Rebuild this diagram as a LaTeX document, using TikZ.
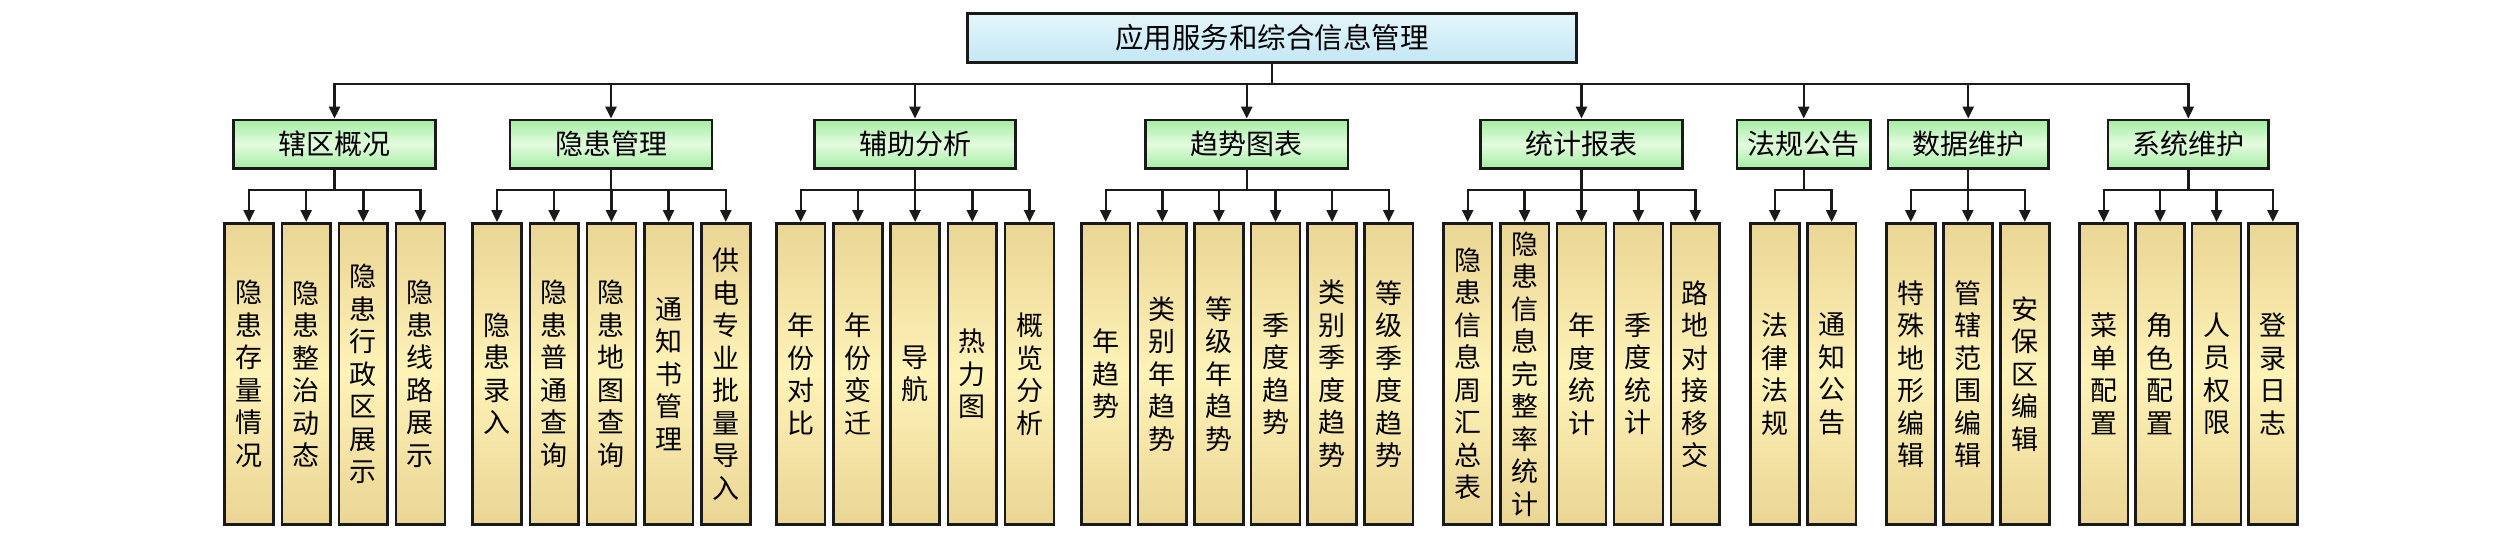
\documentclass[tikz,border=0pt]{standalone}
\usepackage{fontspec}
\setmainfont{Noto Sans CJK SC}
\usetikzlibrary{arrows.meta}
\definecolor{rootA}{HTML}{E4F6FB}
\definecolor{rootB}{HTML}{C4E7F4}
\definecolor{catA}{HTML}{A4EEA4}
\definecolor{catM}{HTML}{E4FBDE}
\definecolor{leafA}{HTML}{EAD594}
\definecolor{leafM}{HTML}{FFF3B8}
\definecolor{ink}{HTML}{1A1A1A}
\def\vtA#1{#1\vtB}
\def\vtB#1{\ifx#1\relax\else\\#1\expandafter\vtB\fi}
\newcommand\vtxt[1]{\vtA#1\relax}
\tikzset{
  boxbase/.style={draw=ink, line width=2.6pt, inner sep=0pt},
  rootbox/.style={boxbase, top color=rootA, bottom color=rootB, minimum width=609.4pt, minimum height=49pt, font=\fontsize{28.5}{32}\selectfont},
  catbox/.style={boxbase, top color=catA, bottom color=catA, middle color=catM, minimum height=48.6pt, font=\fontsize{28}{32}\selectfont},
  leafbox/.style={boxbase, top color=leafA, bottom color=leafA, middle color=leafM, minimum width=48.8pt, minimum height=301.4pt, align=center, font=\fontsize{27}{32.5}\selectfont},
  conn/.style={draw=ink, line width=2.4pt},
  arr/.style={conn, -{Triangle[length=12pt,width=11pt]}}
}
\newcommand\leafgroup[4]{%
  \foreach \t [count=\i from 0] in {#4} {
    \node[leafbox] (#1-\i) at ({#2+\i*#3},374) {\expandafter\vtxt\expandafter{\t}};
    \draw[arr] (#1.south) -- (#1.south |- br) -| (#1-\i.north);
  }
}
\begin{document}
\begin{tikzpicture}[x=1pt,y=-1pt]
\useasboundingbox (0,0) rectangle (2520,539);
\coordinate (top) at (0,84);
\coordinate (br) at (0,190);
\node[rootbox] (root) at (1272,37.8) {应用服务和综合信息管理};
\draw[conn] (root.south) -- (root.south |- top);
\node[catbox, minimum width=202.4pt] (c1) at (334.5,144.2) {辖区概况};
\node[catbox, minimum width=202pt] (c2) at (611,144.2) {隐患管理};
\node[catbox, minimum width=201.4pt] (c3) at (915,144.2) {辅助分析};
\node[catbox, minimum width=202.4pt] (c4) at (1246.7,144.2) {趋势图表};
\node[catbox, minimum width=202.4pt] (c5) at (1581.5,144.2) {统计报表};
\node[catbox, minimum width=133.4pt] (c6) at (1803.7,144.2) {法规公告};
\node[catbox, minimum width=160.4pt] (c7) at (1968.2,144.2) {数据维护};
\node[catbox, minimum width=160.4pt] (c8) at (2188.3,144.2) {系统维护};
\foreach \c in {c1,c2,c3,c4,c5,c6,c7,c8}
  \draw[arr] (root.south |- top) -| (\c.north);
\leafgroup{c1}{249.1}{57.1}{隐患存量情况,隐患整治动态,隐患行政区展示,隐患线路展示}
\leafgroup{c2}{497}{57.2}{隐患录入,隐患普通查询,隐患地图查询,通知书管理,供电专业批量导入}
\leafgroup{c3}{800.7}{57.2}{年份对比,年份变迁,导航,热力图,概览分析}
\leafgroup{c4}{1105.7}{56.6}{年趋势,类别年趋势,等级年趋势,季度趋势,类别季度趋势,等级季度趋势}
\leafgroup{c5}{1467.7}{56.9}{隐患信息周汇总表,隐患信息完整率统计,年度统计,季度统计,路地对接移交}
\leafgroup{c6}{1774.8}{56.8}{法律法规,通知公告}
\leafgroup{c7}{1910.8}{57}{特殊地形编辑,管辖范围编辑,安保区编辑}
\leafgroup{c8}{2103.7}{56.4}{菜单配置,角色配置,人员权限,登录日志}
\end{tikzpicture}
\end{document}
